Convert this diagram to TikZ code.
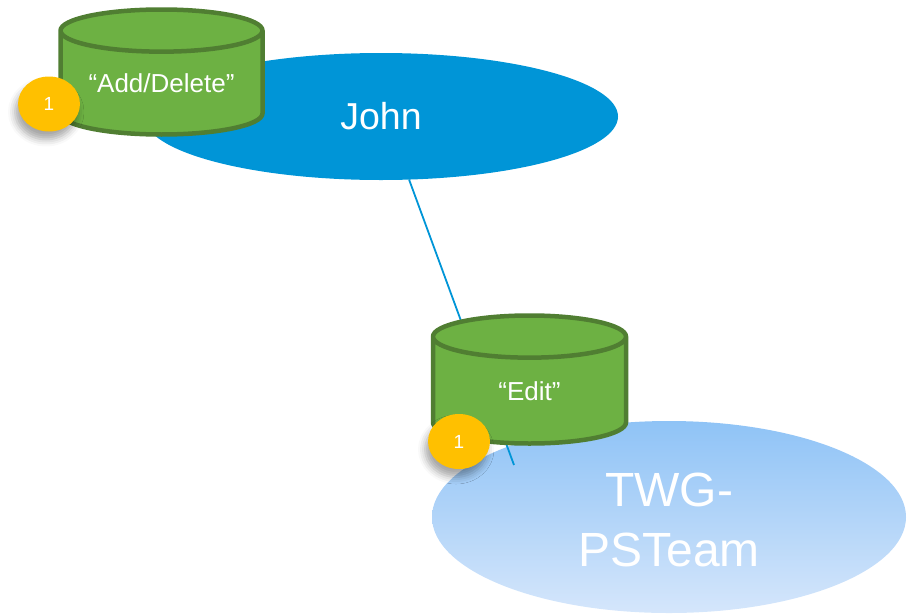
\documentclass[tikz,border=0pt]{standalone}
\usepackage{fontspec}
\setmainfont{Liberation Sans}
\usepackage{tikz}
\usetikzlibrary{shapes.geometric,shadows.blur}
\definecolor{JohnBlue}{HTML}{0095D7}
\definecolor{TeamTop}{HTML}{8FC3F6}
\definecolor{TeamBot}{HTML}{D5E6FB}
\definecolor{DbFill}{HTML}{6DB143}
\definecolor{DbLine}{HTML}{507E32}
\definecolor{BadgeGold}{HTML}{FFC000}
\tikzset{
  owner/.style={ellipse, inner sep=0pt, outer sep=0pt, text=white, align=center},
  dbase/.style={cylinder, shape border rotate=90, aspect=0.68, cylinder uses custom fill,
    cylinder body fill=DbFill, cylinder end fill=DbFill, draw=DbLine, line width=4.5pt,
    anchor=shape center, inner sep=0pt, outer sep=0pt,
    text=white, font=\fontsize{26}{30}\selectfont},
  badge/.style={ellipse, fill=BadgeGold, minimum width=62pt, minimum height=55pt, inner sep=0pt,
    text=white, font=\fontsize{19}{22}\selectfont,
    blur shadow={shadow xshift=-3pt, shadow yshift=-8pt, shadow blur radius=7pt, shadow opacity=35}}
}
\begin{document}
\begin{tikzpicture}[x=1pt,y=-1pt]
   \useasboundingbox (0, 0) rectangle (909, 613);
   \node [owner, fill=JohnBlue, minimum width=474pt, minimum height=127pt,
     font=\fontsize{37.5}{44}\selectfont] (John) at (381, 116.5) {John};
   \node [owner, top color=TeamTop, bottom color=TeamBot, minimum width=474pt, minimum height=192pt] (Team) at (669, 517) {};
   \node [owner, font=\fontsize{48}{60}\selectfont] (TeamText) at (669, 520) {TWG-\\PSTeam};
   \coordinate (LinkEnd) at (514, 465);
   \draw [JohnBlue, line width=1.8pt] (John.294) -- (LinkEnd);
   \node [dbase, minimum width=202pt, minimum height=125pt] (AddDb) at (161.5, 72) {\makebox[62pt][c]{“Add/Delete”}};
   \node [dbase, minimum width=193pt, minimum height=128pt] (EditDb) at (529.5, 379.5) {\makebox[62pt][c]{“Edit”}};
   \node [badge] (AddBadge) at (49, 104) {1};
   \node [badge] (EditBadge) at (459, 441.5) {1};
\end{tikzpicture}
\end{document}
